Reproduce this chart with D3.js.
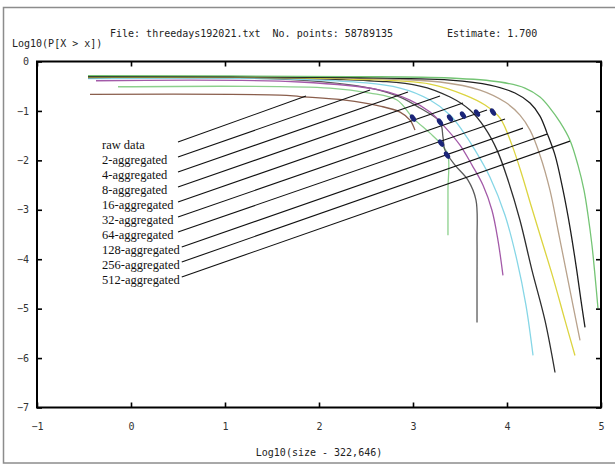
<!DOCTYPE html>
<html><head><meta charset="utf-8">
<script src="https://cdn.jsdelivr.net/npm/d3@7"></script>
<style>html,body{margin:0;padding:0;background:#fff;overflow:hidden}</style>
</head><body><svg id="c" width="615" height="466"></svg>
<script>
// ---------- data (data units) ----------
const labels = ["raw data","2-aggregated","4-aggregated","8-aggregated","16-aggregated",
  "32-aggregated","64-aggregated","128-aggregated","256-aggregated","512-aggregated"];

const raw    = [[-0.436,-0.665],[1.585,-0.679],[1.798,-0.709],[2.277,-0.780],[2.649,-0.902],[2.862,-1.023],[2.968,-1.185],[3.021,-1.388]];
const agg2   = [[-0.138,-0.511],[2.117,-0.537],[2.543,-0.638],[2.830,-0.780],[3.000,-1.145],[3.181,-1.449],[3.309,-1.692],[3.372,-1.895],[3.372,-2.604],[3.372,-3.516]];
const agg4   = [[-0.457,-0.334],[1.798,-0.375],[2.543,-0.537],[2.862,-0.719],[3.074,-0.942],[3.287,-1.226],[3.319,-1.530],[3.340,-1.793],[3.447,-2.097],[3.585,-2.401],[3.670,-2.806],[3.681,-3.617],[3.681,-4.428],[3.681,-5.279]];
const agg8   = [[-0.372,-0.389],[1.798,-0.415],[2.649,-0.578],[2.968,-0.780],[3.181,-1.023],[3.340,-1.327],[3.500,-1.692],[3.628,-2.097],[3.745,-2.503],[3.840,-3.009],[3.904,-3.617],[3.957,-4.326]];
const agg16  = [[-0.457,-0.344],[2.011,-0.375],[2.862,-0.537],[3.181,-0.780],[3.394,-1.084],[3.521,-1.388],[3.660,-1.793],[3.819,-2.340],[3.979,-3.110],[4.106,-4.022],[4.202,-4.934],[4.277,-5.947]];
const agg32  = [[-0.457,-0.324],[2.117,-0.355],[3.074,-0.496],[3.394,-0.719],[3.606,-0.983],[3.766,-1.348],[3.894,-1.793],[4.011,-2.401],[4.138,-3.212],[4.266,-4.225],[4.404,-5.238],[4.511,-6.292]];
const agg64  = [[-0.457,-0.314],[2.330,-0.355],[3.181,-0.456],[3.553,-0.679],[3.766,-0.881],[3.926,-1.145],[4.053,-1.692],[4.160,-2.300],[4.255,-2.908],[4.362,-3.577],[4.489,-4.367],[4.617,-5.238],[4.723,-5.947]];
const agg128 = [[-0.457,-0.294],[2.330,-0.334],[3.287,-0.415],[3.713,-0.578],[3.979,-0.821],[4.138,-1.084],[4.245,-1.388],[4.351,-1.895],[4.457,-2.604],[4.543,-3.414],[4.628,-4.225],[4.702,-4.934],[4.777,-5.643]];
const agg256 = [[-0.457,-0.304],[2.330,-0.324],[3.394,-0.375],[3.819,-0.476],[4.085,-0.638],[4.245,-0.841],[4.351,-1.104],[4.426,-1.449],[4.511,-1.895],[4.596,-2.604],[4.670,-3.354],[4.734,-4.124],[4.787,-4.833],[4.830,-5.380]];
const agg512 = [[-0.457,-0.284],[2.330,-0.304],[3.394,-0.334],[3.926,-0.415],[4.191,-0.537],[4.351,-0.719],[4.457,-0.942],[4.564,-1.226],[4.670,-1.591],[4.755,-2.097],[4.819,-2.604],[4.862,-3.110],[4.904,-3.718],[4.936,-4.326],[4.968,-4.995]];

const seriesList = [raw, agg2, agg4, agg8, agg16, agg32, agg64, agg128, agg256, agg512];
const seriesColors = ["#8a5e4c","#8cd08c","#5a5a5a","#a35aa8","#86d6e6","#2e2e2e","#dcd440","#b8a28c","#1e1e1e","#74c474"];

// leader line end points (data units)
const leaderEndX = [1.862, 2.543, 2.947, 3.287, 3.532, 3.787, 3.979, 4.170, 4.426, 4.670];
const leaderEndY = [-0.699,-0.578,-0.618,-0.699,-0.841,-0.983,-1.165,-1.348,-1.469,-1.611];

// estimate markers (data units)
const estX = [3.000, 3.287, 3.394, 3.532, 3.681, 3.851, 3.298, 3.362];
const estY = [-1.145,-1.226,-1.145,-1.084,-1.044,-1.023,-1.651,-1.895];

const xTicks = [-1,0,1,2,3,4,5];
const yTicks = [0,-1,-2,-3,-4,-5,-6,-7];
const headerFile = "File: threedays192021.txt  No. points: 58789135";
const headerEstimate = "Estimate: 1.700";
const yTitle = "Log10(P[X > x])";
const xTitle = "Log10(size - 322,646)";

// ---------- drawing ----------
const svg = d3.select("#c");
const L = 37, R = 601, T = 61.5, B = 407.5;
const x = d3.scaleLinear().domain([-1,5]).range([L,R]);
const y = d3.scaleLinear().domain([-7,0]).range([B,T]);
const mono = "'DejaVu Sans Mono', 'Liberation Mono', monospace";

svg.append("rect").attr("width",615).attr("height",466).attr("fill","#fff");
// outer border
svg.append("rect").attr("x",3.5).attr("y",7.5).attr("width",640).attr("height",455.5)
  .attr("fill","none").attr("stroke","#8c8c8c").attr("stroke-width",1.5);

svg.append("clipPath").attr("id","clip").append("rect")
  .attr("x",L).attr("y",T).attr("width",R-L).attr("height",B-T);

const line = d3.line().x(d=>x(d[0])).y(d=>y(d[1])).curve(d3.curveCatmullRom.alpha(0.5));
const curves = svg.append("g").attr("clip-path","url(#clip)");
seriesList.forEach((s,i)=>{
  curves.append("path").attr("d",line(s)).attr("fill","none")
    .attr("stroke",seriesColors[i]).attr("stroke-width",1.3);
});

// legend labels and leader lines
const lg = svg.append("g");
labels.forEach((t,i)=>{
  const cy = 145 + 15*i;
  const txt = lg.append("text").attr("x",102).attr("y",cy+4)
    .attr("font-family","'Liberation Serif', 'Times New Roman', serif")
    .attr("font-size",12.5).attr("fill","#111").text(t);
  const w = txt.node().getComputedTextLength();
  const sx = Math.max(102 + w + 2, 178);
  lg.append("line").attr("x1",sx).attr("y1",cy-3)
    .attr("x2",x(leaderEndX[i])).attr("y2",y(leaderEndY[i]))
    .attr("stroke","#111").attr("stroke-width",1.1);
});

// estimate markers
svg.append("g").selectAll("ellipse").data(estX).join("ellipse")
  .attr("cx",(d,i)=>x(d)).attr("cy",(d,i)=>y(estY[i]))
  .attr("rx",2.4).attr("ry",4.2)
  .attr("transform",(d,i)=>`rotate(-35 ${x(d)} ${y(estY[i])})`)
  .attr("fill","#1b2578");

// frame
svg.append("rect").attr("x",L).attr("y",T).attr("width",R-L).attr("height",B-T)
  .attr("fill","none").attr("stroke","#000").attr("stroke-width",2);

function styleAxis(g){ g.select(".domain").remove(); g.selectAll(".tick line").attr("stroke","#000").attr("stroke-width",1.6);
  g.selectAll("text").attr("font-family",mono).attr("font-size",10).attr("fill","#333"); }

svg.append("g").attr("transform",`translate(0,${B})`)
  .call(d3.axisBottom(x).tickValues(xTicks).tickSize(-5).tickPadding(15).tickFormat(d3.format("d"))).call(styleAxis);
svg.append("g").attr("transform",`translate(0,${T})`)
  .call(d3.axisTop(x).tickValues(xTicks).tickSize(-5).tickFormat("")).call(styleAxis);
svg.append("g").attr("transform",`translate(${L},0)`)
  .call(d3.axisLeft(y).tickValues(yTicks).tickSize(-5).tickPadding(8).tickFormat(d3.format("d"))).call(styleAxis);
svg.append("g").attr("transform",`translate(${R},0)`)
  .call(d3.axisRight(y).tickValues(yTicks).tickSize(-5).tickFormat("")).call(styleAxis);

// texts
svg.append("text").attr("x",110).attr("y",37).attr("font-family",mono).attr("font-size",10)
  .attr("fill","#222").style("white-space","pre").text(headerFile);
svg.append("text").attr("x",447).attr("y",37).attr("font-family",mono).attr("font-size",10)
  .attr("fill","#222").style("white-space","pre").text(headerEstimate);
svg.append("text").attr("x",12).attr("y",47).attr("font-family",mono).attr("font-size",10)
  .attr("fill","#222").text(yTitle);
svg.append("text").attr("x",(L+R)/2).attr("y",456).attr("text-anchor","middle")
  .attr("font-family",mono).attr("font-size",10).attr("fill","#222").text(xTitle);
</script></body></html>
